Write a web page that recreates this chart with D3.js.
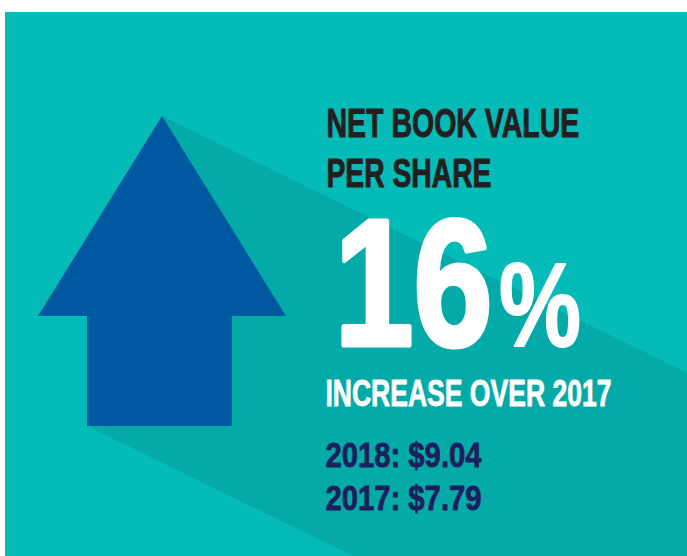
<!DOCTYPE html>
<html>
<head>
<meta charset="utf-8">
<script src="https://cdn.jsdelivr.net/npm/d3@7"></script>
<style>
  html, body { margin: 0; padding: 0; background: #ffffff; }
  svg { display: block; }
</style>
</head>
<body>
<svg id="chart" width="687" height="556"></svg>
<script>
// ---- data ----
const titleLines = ["NET BOOK VALUE", "PER SHARE"];
const increasePct = ["16", "%"];
const subtitle = "INCREASE OVER 2017";
const years = ["2018", "2017"];
const values = [9.04, 7.79];

// ---- layout ----
const W = 687, H = 556;
const svg = d3.select("#chart");

const colBg = "#05bbb8", colShadow = "#04aaa7", colArrow = "#0059a0";
const colDark = "#231f20", colNavy = "#1b1f5e";

svg.append("rect").attr("x", 5).attr("y", 12).attr("width", W - 5).attr("height", H - 12).attr("fill", colBg);

// arrow geometry via scales
const ax = d3.scaleLinear().domain([0, 1]).range([38, 286]);
const ay = d3.scaleLinear().domain([0, 1]).range([426, 116]);
const headBase = ay.invert(316);
const shaftL = ax.invert(87), shaftR = ax.invert(232);
const arrowPts = [
  [0.5, 1], [1, headBase], [shaftR, headBase], [shaftR, 0],
  [shaftL, 0], [shaftL, headBase], [0, headBase]
].map(([u, v]) => [ax(u), ay(v)]);

// shadow cast along direction
const dir = [1, 0.489];
const L = 1200;
const tip = arrowPts[0], bl = arrowPts[4];
const shadowPts = [tip, [tip[0] + dir[0] * L, tip[1] + dir[1] * L], [bl[0] + dir[0] * L, bl[1] + dir[1] * L], bl];

const clip = svg.append("clipPath").attr("id", "bgclip");
clip.append("rect").attr("x", 5).attr("y", 12).attr("width", W - 5).attr("height", H - 12);

svg.append("path").attr("clip-path", "url(#bgclip)")
  .attr("d", d3.line()(shadowPts) + "Z").attr("fill", colShadow);
svg.append("path").attr("d", d3.line()(arrowPts) + "Z").attr("fill", colArrow);

const font = "'Liberation Sans', Arial, sans-serif";
function txt(s, x, y, size, len, fill, sw) {
  const t = svg.append("text").attr("x", 0).attr("y", 0)
    .attr("font-family", font).attr("font-weight", 700).attr("font-size", size)
    .attr("fill", fill)
    .text(s);
  if (sw) t.attr("stroke", fill).attr("stroke-width", sw).attr("stroke-linejoin", "round");
  const w = t.node().getComputedTextLength();
  const sx = (len - (sw || 0)) / w;
  t.attr("transform", `translate(${x + (sw || 0) / 2},${y}) scale(${sx},1)`);
}

txt(titleLines[0], 326, 137, 41, 254, colDark, 1);
txt(titleLines[1], 326, 187, 41, 166, colDark, 1);
txt(increasePct[0], 332, 345, 180, 163, "#ffffff", 5);
txt(increasePct[1], 498, 346, 119, 84, "#ffffff", 2);
txt(subtitle, 325, 406, 36, 287, "#ffffff", 0.8);
const fmt = d3.format("$.2f");
txt(`${years[0]}:  ${fmt(values[0])}`, 325, 467, 35, 157, colNavy, 0.8);
txt(`${years[1]}: ${fmt(values[1])}`, 325, 510, 35, 157, colNavy, 0.8);
</script>
</body>
</html>
